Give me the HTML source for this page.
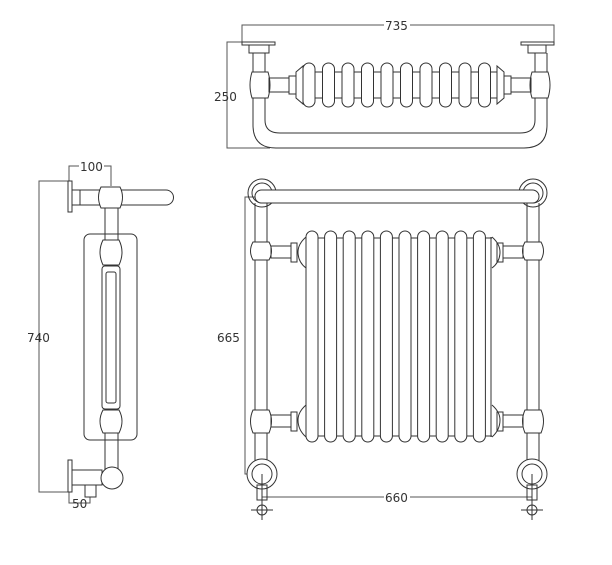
<!DOCTYPE html>
<html><head><meta charset="utf-8"><style>
html,body{margin:0;padding:0;background:#fff;}
svg{display:block;}
text{font-family:"DejaVu Sans","Liberation Sans",sans-serif;font-size:12px;fill:#333;}
</style></head><body>
<svg width="612" height="565" viewBox="0 0 612 565" xmlns="http://www.w3.org/2000/svg">
<g fill="none" stroke="#333" stroke-width="1">
<!-- ===== TOP VIEW ===== -->
<polyline points="242,45 242,25 554,25 554,43" stroke="#555"/>
<polyline points="255,42 227,42 227,148 270,148" stroke="#555"/>
<rect x="242" y="42" width="33" height="3" fill="#fff"/>
<rect x="249" y="45" width="20" height="8" fill="#fff"/>
<rect x="521" y="42" width="33" height="3" fill="#fff"/>
<rect x="528" y="45" width="18" height="8" fill="#fff"/>
<!-- U tube -->
<path d="M253,98 L253,125 Q253,148 276,148 L524,148 Q547,148 547,125 L547,98"/>
<path d="M265,98 L265,120 Q265,133 280,133 L520,133 Q535,133 535,120 L535,98"/>
<line x1="253" y1="53" x2="253" y2="72"/><line x1="265" y1="53" x2="265" y2="72"/>
<line x1="535" y1="53" x2="535" y2="72"/><line x1="547" y1="53" x2="547" y2="72"/>
<path d="M252,72 L268,72 Q272,85 268,98 L252,98 Q248,85 252,72Z" fill="#fff"/>
<path d="M532,72 L548,72 Q552,85 548,98 L532,98 Q528,85 532,72Z" fill="#fff"/>
<rect x="269" y="78" width="20" height="14"/>
<rect x="289" y="76" width="7" height="18"/>
<rect x="511" y="78" width="20" height="14"/>
<rect x="504" y="76" width="7" height="18"/>
<path d="M296,72 L303,66 L303,104 L296,98Z"/>
<path d="M504,72 L497,66 L497,104 L504,98Z"/>
<rect x="303" y="72" width="194" height="26"/>
<rect x="303" y="63" width="12" height="44" rx="6" fill="#fff"/>
<rect x="322.5" y="63" width="12" height="44" rx="6" fill="#fff"/>
<rect x="342" y="63" width="12" height="44" rx="6" fill="#fff"/>
<rect x="361.5" y="63" width="12" height="44" rx="6" fill="#fff"/>
<rect x="381" y="63" width="12" height="44" rx="6" fill="#fff"/>
<rect x="400.5" y="63" width="12" height="44" rx="6" fill="#fff"/>
<rect x="420" y="63" width="12" height="44" rx="6" fill="#fff"/>
<rect x="439.5" y="63" width="12" height="44" rx="6" fill="#fff"/>
<rect x="459" y="63" width="12" height="44" rx="6" fill="#fff"/>
<rect x="478.5" y="63" width="12" height="44" rx="6" fill="#fff"/>

<!-- ===== FRONT VIEW ===== -->
<polyline points="262,197 245,197 245,474 262,474" stroke="#555"/>
<line x1="262" y1="497" x2="532" y2="497" stroke="#555"/>
<line x1="255" y1="203" x2="255" y2="462"/><line x1="267" y1="203" x2="267" y2="462"/>
<line x1="527" y1="203" x2="527" y2="462"/><line x1="539" y1="203" x2="539" y2="462"/>
<circle cx="262" cy="193" r="14"/><circle cx="262" cy="193" r="10"/>
<circle cx="533" cy="193" r="14"/><circle cx="533" cy="193" r="10"/>
<rect x="255" y="190" width="284" height="13" rx="6.5" fill="#fff"/>
<circle cx="262" cy="474" r="15" fill="#fff"/><circle cx="262" cy="474" r="10"/>
<circle cx="532" cy="474" r="15" fill="#fff"/><circle cx="532" cy="474" r="10"/>
<line x1="262" y1="474" x2="262" y2="520"/><line x1="532" y1="474" x2="532" y2="520"/>
<rect x="257" y="485" width="10" height="15"/><rect x="527" y="485" width="10" height="15"/>
<circle cx="262" cy="510" r="5"/><line x1="251" y1="510" x2="273" y2="510"/>
<circle cx="532" cy="510" r="5"/><line x1="521" y1="510" x2="543" y2="510"/>
<!-- ball joints -->
<path d="M253,242 L269,242 Q274,251 269,260 L253,260 Q248,251 253,242Z" fill="#fff"/>
<path d="M253,410 L269,410 Q274,421 269,433 L253,433 Q248,421 253,410Z" fill="#fff"/>
<path d="M525,242 L541,242 Q546,251 541,260 L525,260 Q520,251 525,242Z" fill="#fff"/>
<path d="M525,410 L541,410 Q546,421 541,433 L525,433 Q520,421 525,410Z" fill="#fff"/>
<rect x="271" y="246" width="20" height="12"/><rect x="291" y="243" width="6" height="19"/>
<rect x="271" y="415" width="20" height="12"/><rect x="291" y="412" width="6" height="19"/>
<rect x="503" y="246" width="20" height="12"/><rect x="497" y="243" width="6" height="19"/>
<rect x="503" y="415" width="20" height="12"/><rect x="497" y="412" width="6" height="19"/>
<path d="M306,237 Q298,244 298,252 Q298,262 306,268"/>
<path d="M306,405 Q298,412 298,420 Q298,430 306,437"/>
<path d="M492,237 Q500,244 500,252 Q500,262 492,268"/>
<path d="M492,405 Q500,412 500,420 Q500,430 492,437"/>
<line x1="306" y1="238" x2="492" y2="238"/>
<line x1="306" y1="436" x2="492" y2="436"/>
<rect x="306" y="231" width="12" height="211" rx="6" fill="#fff"/>
<rect x="324.6" y="231" width="12" height="211" rx="6" fill="#fff"/>
<rect x="343.2" y="231" width="12" height="211" rx="6" fill="#fff"/>
<rect x="361.8" y="231" width="12" height="211" rx="6" fill="#fff"/>
<rect x="380.4" y="231" width="12" height="211" rx="6" fill="#fff"/>
<rect x="399" y="231" width="12" height="211" rx="6" fill="#fff"/>
<rect x="417.6" y="231" width="12" height="211" rx="6" fill="#fff"/>
<rect x="436.2" y="231" width="12" height="211" rx="6" fill="#fff"/>
<rect x="454.8" y="231" width="12" height="211" rx="6" fill="#fff"/>
<rect x="473.4" y="231" width="12" height="211" rx="6" fill="#fff"/>
<line x1="491" y1="237" x2="491" y2="437"/>

<!-- ===== SIDE VIEW ===== -->
<polyline points="70,181 39,181 39,492 70,492" stroke="#555"/>
<polyline points="69,181 69,166 111,166 111,186" stroke="#555"/>
<polyline points="69,492 69,503 90,503 90,497" stroke="#555"/>
<rect x="84" y="234" width="53" height="206" rx="6"/>
<rect x="68" y="181" width="4" height="31"/>
<rect x="72" y="190" width="8" height="15"/>
<path d="M80,190 L166,190 A7.5,7.5 0 0 1 166,205 L80,205Z" fill="#fff"/>
<path d="M101,187 L120,187 Q125,197 120,208 L101,208 Q96,197 101,187Z" fill="#fff"/>
<line x1="105" y1="208" x2="105" y2="470"/><line x1="118" y1="208" x2="118" y2="470"/>
<path d="M103,240 L119,240 Q125,252 119,265 L103,265 Q97,252 103,240Z" fill="#fff"/>
<path d="M103,410 L119,410 Q125,421 119,433 L103,433 Q97,421 103,410Z" fill="#fff"/>
<rect x="102" y="266" width="18" height="143" rx="3" fill="#fff"/>
<rect x="106" y="272" width="10" height="131" rx="2"/>
<rect x="68" y="460" width="4" height="32"/>
<rect x="72" y="470" width="30" height="15"/>
<rect x="85" y="485" width="11" height="12"/>
<circle cx="112" cy="478" r="11" fill="#fff"/>
</g>
<g>
<text x="385" y="30" style="fill:#333">735</text>
<text x="214" y="101">250</text>
<text x="217" y="342">665</text>
<text x="385" y="502">660</text>
<text x="27" y="342">740</text>
<text x="80" y="171">100</text>
<text x="72" y="508">50</text>
</g>
<g fill="#fff">
<rect x="384" y="18" width="26" height="13"/>
<rect x="384" y="490" width="26" height="13"/>
<rect x="79" y="159" width="25" height="13"/>
</g>
<g>
<text x="385" y="30">735</text>
<text x="385" y="502">660</text>
<text x="80" y="171">100</text>
</g>
</svg>
</body></html>
